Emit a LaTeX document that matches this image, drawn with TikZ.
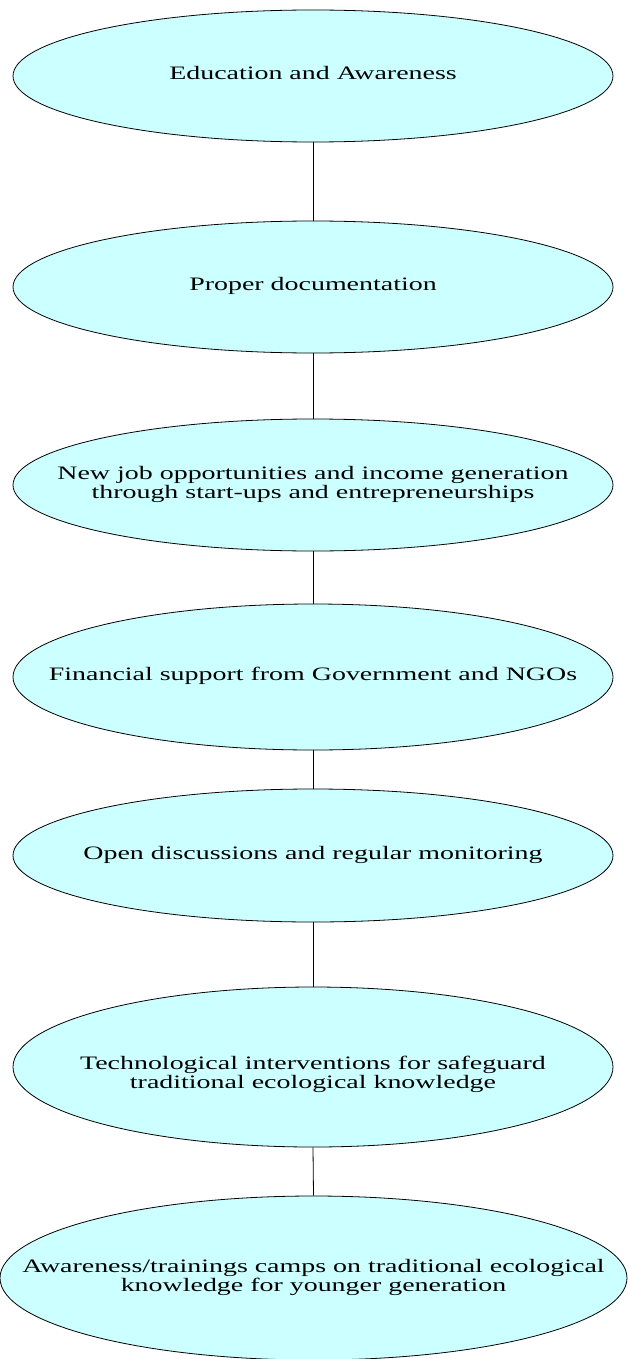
\documentclass[tikz,border=0pt]{standalone}
\usepackage{fontspec}
\usepackage{graphicx}
\setmainfont{Liberation Serif}
\usetikzlibrary{shapes.geometric}
\definecolor{celeste}{RGB}{204,255,255}
\newcommand{\etxt}[1]{\makebox[0pt]{\scalebox{1.47}[1]{\fontsize{19}{19}\selectfont\begin{tabular}{@{}c@{}}#1\end{tabular}}}}
\tikzset{
  oval/.style={ellipse, draw=black, line width=0.8pt, fill=celeste, inner sep=0pt,
    minimum width=600pt, minimum height=132pt},
  link/.style={draw=black, line width=0.8pt}
}
\begin{document}
\begin{tikzpicture}[x=1pt,y=-1pt]
\useasboundingbox (0,0) rectangle (627,1359);
\node[oval] (e1) at (313,76) {\etxt{Education and Awareness}};
\node[oval] (e2) at (313,287) {\etxt{Proper documentation}};
\node[oval] (e3) at (313,485) {\etxt{New job opportunities and income generation\\through start-ups and entrepreneurships}};
\node[oval, minimum height=146pt] (e4) at (313,677) {\etxt{Financial support from Government and NGOs}};
\node[oval, minimum height=133pt] (e5) at (313,855.5) {\etxt{Open discussions and regular monitoring}};
\node[oval, minimum height=160pt, text height=37pt, text depth=12pt] (e6) at (313,1067) {\etxt{Technological interventions for safeguard\\traditional ecological knowledge}};
\node[oval, minimum width=627pt, minimum height=164pt] (e7) at (313.5,1278) {\etxt{Awareness/trainings camps on traditional ecological\\knowledge for younger generation}};
\draw[link] (e1.south) -- (e2.north);
\draw[link] (e2.south) -- (e3.north);
\draw[link] (e3.south) -- (e4.north);
\draw[link] (e4.south) -- (e5.north);
\draw[link] (e5.south) -- (e6.north);
\draw[link] (e6.south) -- (e7.north);
\end{tikzpicture}
\end{document}
